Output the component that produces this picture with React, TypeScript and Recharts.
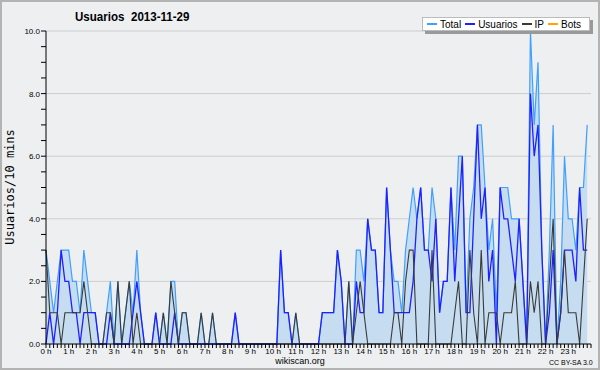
import React from 'react'
import { ComposedChart, Area, Line, XAxis, YAxis, CartesianGrid } from 'recharts'

// 10-minute slots, 0h00 .. 23h50
const hourLabels = [
  '0 h', '1 h', '2 h', '3 h', '4 h', '5 h', '6 h', '7 h', '8 h', '9 h', '10 h', '11 h',
  '12 h', '13 h', '14 h', '15 h', '16 h', '17 h', '18 h', '19 h', '20 h', '21 h', '22 h', '23 h',
]

const totalValues = [
  3, 2, 1, 2, 3, 3, 3, 2, 2, 1,
  3, 2, 1, 1, 0, 0, 1, 2, 0, 2,
  0, 1, 2, 1, 3, 1, 0, 0, 0, 1,
  0, 1, 0, 2, 2, 0, 1, 1, 0, 0,
  0, 1, 0, 0, 1, 0, 0, 0, 0, 0,
  1, 0, 0, 0, 0, 0, 0, 0, 0, 0,
  0, 0, 3, 1, 1, 0, 1, 0, 0, 0,
  0, 0, 0, 1, 1, 1, 1, 3, 2, 0,
  2, 0, 3, 3, 2, 4, 3, 3, 1, 1,
  5, 3, 2, 2, 1, 3, 4, 5, 4, 5,
  3, 3, 5, 4, 1, 2, 2, 5, 3, 6,
  6, 1, 4, 5, 7, 7, 5, 3, 4, 1,
  5, 5, 5, 4, 4, 4, 2, 0, 10, 7,
  9, 3, 0, 3, 7, 0, 2, 6, 4, 4,
  3, 5, 5, 7,
]

const usuariosValues = [
  0, 1, 0, 1, 3, 2, 2, 1, 1, 0,
  1, 1, 1, 1, 0, 0, 0, 1, 0, 0,
  0, 0, 0, 1, 2, 1, 0, 0, 0, 1,
  0, 0, 0, 0, 1, 0, 0, 0, 0, 0,
  0, 0, 0, 0, 0, 0, 0, 0, 0, 0,
  1, 0, 0, 0, 0, 0, 0, 0, 0, 0,
  0, 0, 3, 1, 1, 0, 0, 0, 0, 0,
  0, 0, 0, 1, 1, 1, 1, 3, 2, 0,
  0, 0, 2, 1, 1, 4, 3, 3, 1, 1,
  5, 3, 1, 1, 1, 1, 1, 2, 4, 5,
  3, 3, 2, 4, 1, 2, 2, 5, 2, 4,
  6, 1, 1, 4, 7, 4, 5, 2, 3, 0,
  5, 4, 4, 3, 2, 4, 2, 0, 8, 6,
  7, 3, 0, 1, 3, 0, 1, 3, 3, 3,
  2, 5, 3, 3,
]

const ipValues = [
  3, 1, 1, 1, 0, 1, 1, 1, 1, 1,
  2, 1, 0, 0, 0, 0, 1, 1, 0, 2,
  0, 1, 2, 0, 1, 0, 0, 0, 0, 0,
  0, 1, 0, 2, 1, 0, 1, 1, 0, 0,
  0, 1, 0, 0, 1, 0, 0, 0, 0, 0,
  0, 0, 0, 0, 0, 0, 0, 0, 0, 0,
  0, 0, 0, 0, 0, 0, 1, 0, 0, 0,
  0, 0, 0, 0, 0, 0, 0, 0, 0, 0,
  2, 0, 1, 2, 1, 0, 0, 0, 0, 0,
  0, 0, 1, 1, 0, 2, 3, 3, 0, 0,
  0, 0, 3, 0, 0, 0, 0, 0, 1, 2,
  0, 0, 3, 1, 0, 3, 0, 1, 1, 1,
  0, 1, 1, 1, 2, 0, 0, 0, 2, 1,
  2, 0, 0, 2, 4, 0, 1, 3, 1, 1,
  1, 0, 2, 4,
]

const yTicks = [0, 0.5, 1, 1.5, 2, 2.5, 3, 3.5, 4, 4.5, 5, 5.5, 6, 6.5, 7, 7.5, 8, 8.5, 9, 9.5, 10]
const gridValues = [2, 4, 6, 8, 10]

const legendItems = [
  { name: 'Total', color: '#3fa0ff' },
  { name: 'Usuarios', color: '#2020ff' },
  { name: 'IP', color: '#3a3a3a' },
  { name: 'Bots', color: '#ffa500' },
]

const data = totalValues.map((t, i) => ({
  slot: i,
  total: t,
  usuarios: usuariosValues[i],
  ip: ipValues[i],
}))
const xTicks = Array.from({ length: 145 }, (_, i) => i)

const FONT = '"Liberation Sans", Arial, sans-serif'

const HourTick = (props: any) => {
  const { x, y, payload } = props
  const v = payload.value
  if (v % 6 !== 0 || v >= 144) return <g />
  return (
    <text x={x} y={y} dy="0.71em" textAnchor="middle" fontSize={8} fontFamily={FONT} fill="#000">
      {hourLabels[v / 6]}
    </text>
  )
}

const ValueTick = (props: any) => {
  const { x, y, payload } = props
  const v = payload.value
  if (v % 2 !== 0) return <g />
  return (
    <text x={x} y={y} dy={3} textAnchor="end" fontSize={8} fontFamily={FONT} fill="#000">
      {v.toFixed(1)}
    </text>
  )
}

export default function App() {
  return (
    <div style={{ position: 'absolute', left: 0, top: 0, width: 600, height: 370, background: '#eeeff1', fontFamily: FONT }}>
      <ComposedChart width={600} height={370} data={data} margin={{ top: 31, right: 9, bottom: 0, left: 0 }}>
        <CartesianGrid vertical={false} horizontalValues={gridValues} stroke="#cdcdcd" />
        <XAxis
          dataKey="slot"
          type="number"
          domain={[0, 144]}
          ticks={xTicks}
          interval={0}
          height={26}
          tickSize={4}
          tickMargin={0}
          axisLine={{ stroke: '#000' }}
          tickLine={{ stroke: '#000' }}
          tick={(p: any) => <HourTick {...p} />}
        />
        <YAxis
          type="number"
          domain={[0, 10]}
          ticks={yTicks}
          interval={0}
          width={46}
          tickSize={5}
          tickMargin={1}
          axisLine={{ stroke: '#000' }}
          tickLine={{ stroke: '#000' }}
          tick={(p: any) => <ValueTick {...p} />}
        />
        <Area
          dataKey="total"
          type="linear"
          stroke="#3fa0ff"
          strokeWidth={1.2}
          fill="#c6ddf1"
          fillOpacity={1}
          dot={false}
          activeDot={false}
          isAnimationActive={false}
        />
        <Line dataKey="usuarios" type="linear" stroke="#2020ff" strokeWidth={1.3} dot={false} activeDot={false} isAnimationActive={false} />
        <Line dataKey="ip" type="linear" stroke="#3a3a3a" strokeWidth={1.1} dot={false} activeDot={false} isAnimationActive={false} />
      </ComposedChart>

      {/* title */}
      <div
        style={{
          position: 'absolute', left: 75, top: 9, fontSize: 13, fontWeight: 'bold', whiteSpace: 'pre',
          color: '#000', transform: 'scaleX(0.89)', transformOrigin: 'left top',
        }}
      >
        {'Usuarios  2013-11-29'}
      </div>

      {/* legend */}
      <div
        style={{
          position: 'absolute', left: 422, top: 17, width: 168, height: 14, background: '#fff',
          border: '1px solid #bbb', boxShadow: '3px 3px 0 #999', display: 'flex', alignItems: 'center',
          fontSize: 10, color: '#000', boxSizing: 'border-box', paddingLeft: 4,
        }}
      >
        {legendItems.map(item => (
          <div key={item.name} style={{ display: 'flex', alignItems: 'center', marginRight: 4 }}>
            <div style={{ width: 10, height: 1.5, background: item.color, marginRight: 3 }} />
            <span>{item.name}</span>
          </div>
        ))}
      </div>

      {/* y axis label */}
      <div
        style={{
          position: 'absolute', left: -90, top: 180, width: 200, height: 14, lineHeight: '14px',
          textAlign: 'center', transform: 'rotate(-90deg)', fontSize: 12,
          fontFamily: '"DejaVu Sans Mono", monospace', color: '#000',
        }}
      >
        Usuarios/10 mins
      </div>

      {/* footer */}
      <div style={{ position: 'absolute', left: 200, width: 200, top: 356, textAlign: 'center', fontSize: 9, color: '#000' }}>
        wikiscan.org
      </div>
      <div style={{ position: 'absolute', left: 549, top: 359, fontSize: 7, color: '#000' }}>CC BY-SA 3.0</div>

      <div style={{ position: 'absolute', left: 0, top: 0, width: 600, height: 370, border: '2px solid #b3b3b3', boxSizing: 'border-box', pointerEvents: 'none' }} />
    </div>
  )
}
